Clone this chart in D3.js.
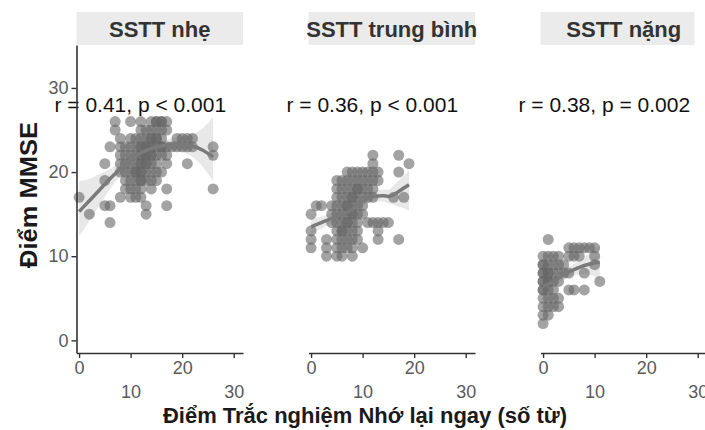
<!DOCTYPE html>
<html>
<head>
<meta charset="utf-8">
<script src="https://cdn.jsdelivr.net/npm/d3@7"></script>
<style>
  html, body { margin: 0; padding: 0; background: #fff; }
  svg { display: block; font-family: "Liberation Sans", Arial, sans-serif; }
</style>
</head>
<body>
<svg id="chart" width="705" height="430"></svg>
<script>
// ---------------- DATA ----------------
const panelTitles = ["SSTT nhẹ", "SSTT trung bình", "SSTT nặng"];
const corLabels = ["r = 0.41, p < 0.001", "r = 0.36, p < 0.001", "r = 0.38, p = 0.002"];
const xTicks = [0, 10, 20, 30];
const yTicks = [0, 10, 20, 30];
const xTitle = "Điểm Trắc nghiệm Nhớ lại ngay (số từ)";
const yTitle = "Điểm MMSE";

// points [recall words, MMSE] per panel
const mildPoints = [
  [7,26],[10,26],[12,26],[14,26],[15,26],[16,26],[17,26],[15,26],[16,26],
  [7,25],[12,25],[13,25],[15,25],[16,25],[14,25],[17,25],
  [8,24],[10,24],[11,24],[12,24],[13,24],[14,24],[15,24],[16,24],[19,24],[20,24],[21,24],[22,24],[14,24],[15,24],
  [6,23],[8,23],[9,23],[10,23],[11,23],[12,23],[13,23],[14,23],[15,23],[16,23],[17,23],[18,23],[19,23],[20,23],[21,23],[22,23],[26,23],[12,23],[13,23],[14,23],[16,23],
  [8,22],[9,22],[10,22],[11,22],[12,22],[13,22],[14,22],[15,22],[16,22],[17,22],[26,22],[12,22],[13,22],[14,22],
  [5,21],[8,21],[9,21],[10,21],[11,21],[12,21],[13,21],[14,21],[15,21],[17,21],[21,21],[12,21],[13,21],
  [8,20],[9,20],[10,20],[11,20],[12,20],[13,20],[14,20],[15,20],[16,20],[11,20],[12,20],
  [5,19],[9,19],[10,19],[11,19],[12,19],[13,19],[14,19],[15,19],[12,19],
  [9,18],[10,18],[11,18],[12,18],[14,18],[17,18],[26,18],
  [0,17],[8,17],[10,17],[11,17],[12,17],
  [5,16],[6,16],[13,16],[17,16],
  [2,15],[13,15],
  [6,14]
];
const moderatePoints = [
  [12,22],[17,22],[12,21],[19,21],
  [7,20],[8,20],[9,20],[10,20],[11,20],[12,20],[13,20],[17,20],
  [5,19],[6,19],[7,19],[8,19],[9,19],[10,19],[11,19],[12,19],[13,19],
  [5,18],[6,18],[7,18],[8,18],[9,18],[10,18],[11,18],[12,18],[9,18],
  [5,17],[6,17],[7,17],[8,17],[9,17],[10,17],[11,17],[12,17],[16,17],[18,17],[8,17],
  [1,16],[2,16],[4,16],[5,16],[6,16],[7,16],[8,16],[9,16],[10,16],[7,16],
  [0,15],[4,15],[5,15],[6,15],[7,15],[8,15],[9,15],[10,15],[8,15],
  [4,14],[5,14],[6,14],[7,14],[8,14],[9,14],[11,14],[12,14],[13,14],[14,14],[15,14],[7,14],
  [0,13],[5,13],[6,13],[7,13],[8,13],[9,13],[13,13],[6,13],
  [0,12],[3,12],[5,12],[6,12],[7,12],[8,12],[9,12],[13,12],[17,12],
  [0,11],[3,11],[5,11],[6,11],[7,11],[8,11],[10,11],
  [3,10],[5,10],[6,10],[8,10]
];
const severePoints = [
  [0,2],[0,3],[0,4],[0,5],[0,6],[0,7],[0,8],[0,9],[0,10],[0,6],[0,7],[0,8],[0,9],
  [1,3],[1,4],[1,5],[1,6],[1,7],[1,8],[1,9],[1,10],[1,12],[1,7],[1,8],
  [2,4],[2,5],[2,6],[2,7],[2,8],[2,9],[2,10],
  [3,4],[3,5],[3,7],[3,8],[3,9],[3,10],
  [4,8],[4,9],
  [5,6],[5,8],[5,10],[5,11],
  [6,6],[6,10],[6,11],
  [7,10],[7,11],
  [8,6],[8,8],[8,11],
  [9,11],
  [10,9],[10,10],[10,11],
  [11,7]
];

// loess fits: x, fit, lower, upper
const mildSmoothX  = [0, 2, 4, 6, 8, 10, 12, 14, 16, 18, 20, 22, 24, 26];
const mildSmoothY  = [15.3, 16.6, 17.9, 19.2, 20.4, 21.5, 22.3, 22.8, 23.1, 23.3, 23.3, 23.1, 22.6, 21.8];
const mildSmoothLo = [12.4, 14.2, 16.1, 18.0, 19.6, 21.0, 21.9, 22.4, 22.6, 22.6, 22.4, 21.8, 20.6, 18.9];
const mildSmoothHi = [18.9, 19.2, 19.8, 20.4, 21.2, 22.0, 22.7, 23.2, 23.6, 24.0, 24.2, 24.5, 25.2, 26.5];

const modSmoothX  = [0, 2, 4, 6, 8, 10, 12, 14, 15, 16, 17, 18, 19];
const modSmoothY  = [13.5, 14.0, 14.5, 14.9, 15.6, 16.5, 17.1, 17.2, 17.1, 17.3, 17.7, 18.1, 18.5];
const modSmoothLo = [12.6, 13.3, 13.9, 14.4, 15.1, 15.9, 16.5, 16.5, 16.3, 16.1, 15.9, 15.7, 15.4];
const modSmoothHi = [14.5, 14.7, 15.1, 15.4, 16.1, 17.1, 17.7, 17.9, 17.9, 18.4, 19.0, 19.6, 20.2];

const sevSmoothX  = [0, 2, 4, 6, 8, 10, 11];
const sevSmoothY  = [6.4, 7.0, 7.8, 8.4, 8.9, 9.2, 9.3];
const sevSmoothLo = [5.8, 6.5, 7.2, 7.7, 7.9, 7.6, 7.2];
const sevSmoothHi = [7.0, 7.5, 8.4, 9.1, 9.9, 10.8, 11.4];

// ---------------- LAYOUT ----------------
const panels = [
  { points: mildPoints, sx: mildSmoothX, sy: mildSmoothY, lo: mildSmoothLo, hi: mildSmoothHi },
  { points: moderatePoints, sx: modSmoothX, sy: modSmoothY, lo: modSmoothLo, hi: modSmoothHi },
  { points: severePoints, sx: sevSmoothX, sy: sevSmoothY, lo: sevSmoothLo, hi: sevSmoothHi }
];
const panelLeft0 = 76.5, panelStep = 232, panelW = 166.5;
const panelTop = 45, panelBottom = 353;
const stripTop = 12;
const stripWidths = [166.5, 166.5, 154];

const svg = d3.select("#chart");

const x = d3.scaleLinear().domain([-0.5, 31.8]).range([0, panelW]);
const y = d3.scaleLinear().domain([-1.5, 35.1]).range([panelBottom - panelTop, 0]);

const font = '"Liberation Sans", Arial, sans-serif';

panels.forEach((p, i) => {
  const left = panelLeft0 + i * panelStep;
  // strip
  svg.append("rect")
    .attr("x", left).attr("y", stripTop)
    .attr("width", stripWidths[i]).attr("height", panelTop - stripTop)
    .attr("fill", "#ebebeb");
  svg.append("text")
    .attr("x", left + panelW / 2).attr("y", 36.5)
    .attr("text-anchor", "middle")
    .attr("font-size", 22).attr("font-weight", "bold")
    .attr("fill", "#333")
    .text(panelTitles[i]);

  const g = svg.append("g").attr("transform", `translate(${left},${panelTop})`);

  // confidence band
  const band = p.sx.map((v, k) => ({ x: v, lo: p.lo[k], hi: p.hi[k] }));
  g.append("path")
    .datum(band)
    .attr("d", d3.area().curve(d3.curveMonotoneX)
      .x(d => x(d.x)).y0(d => y(d.lo)).y1(d => y(d.hi)))
    .attr("fill", "#e8e8e8");

  // points
  g.selectAll("circle.pt").data(p.points).join("circle")
    .attr("class", "pt")
    .attr("cx", d => x(d[0])).attr("cy", d => y(d[1]))
    .attr("r", 5.5)
    .attr("fill", "#666")
    .attr("fill-opacity", 0.6);

  // smooth line
  const fit = p.sx.map((v, k) => ({ x: v, y: p.sy[k] }));
  g.append("path")
    .datum(fit)
    .attr("d", d3.line().curve(d3.curveMonotoneX).x(d => x(d.x)).y(d => y(d.y)))
    .attr("fill", "none")
    .attr("stroke", "#7a7a7a")
    .attr("stroke-width", 3.5)
    .attr("stroke-linecap", "butt");

  // x axis
  const xa = g.append("g")
    .attr("transform", `translate(0,${panelBottom - panelTop})`)
    .call(d3.axisBottom(x).tickValues(xTicks).tickSize(5).tickSizeOuter(0));
  xa.select(".domain").attr("stroke", "#333").attr("stroke-width", 1.6);
  xa.selectAll(".tick line").attr("stroke", "#333").attr("stroke-width", 1.4);
  xa.selectAll(".tick text")
    .attr("font-family", font).attr("font-size", 18).attr("fill", "#5a5a5a")
    .attr("dy", null)
    .attr("y", (d, k) => (k % 2 === 0 ? 21 : 45));

  // correlation label
  g.append("text")
    .attr("x", -22).attr("y", y(27.1))
    .attr("font-size", 21).attr("fill", "#111")
    .text(corLabels[i]);

  if (i === 0) {
    const ya = g.append("g")
      .call(d3.axisLeft(y).tickValues(yTicks).tickSize(5).tickSizeOuter(0));
    ya.select(".domain").attr("stroke", "#333").attr("stroke-width", 1.6);
    ya.selectAll(".tick line").attr("stroke", "#333").attr("stroke-width", 1.4);
    ya.selectAll(".tick text")
      .attr("font-family", font).attr("font-size", 18).attr("fill", "#5a5a5a")
      .attr("x", -8);
  }
});

// axis titles
svg.append("text")
  .attr("x", 365).attr("y", 423)
  .attr("text-anchor", "middle")
  .attr("font-size", 22).attr("font-weight", "bold").attr("fill", "#1a1a1a")
  .attr("textLength", 404).attr("lengthAdjust", "spacingAndGlyphs")
  .text(xTitle);
svg.append("text")
  .attr("transform", `translate(37,195) rotate(-90)`)
  .attr("text-anchor", "middle")
  .attr("font-size", 24).attr("font-weight", "bold").attr("fill", "#1a1a1a")
  .attr("textLength", 146).attr("lengthAdjust", "spacingAndGlyphs")
  .text(yTitle);
</script>
</body>
</html>
